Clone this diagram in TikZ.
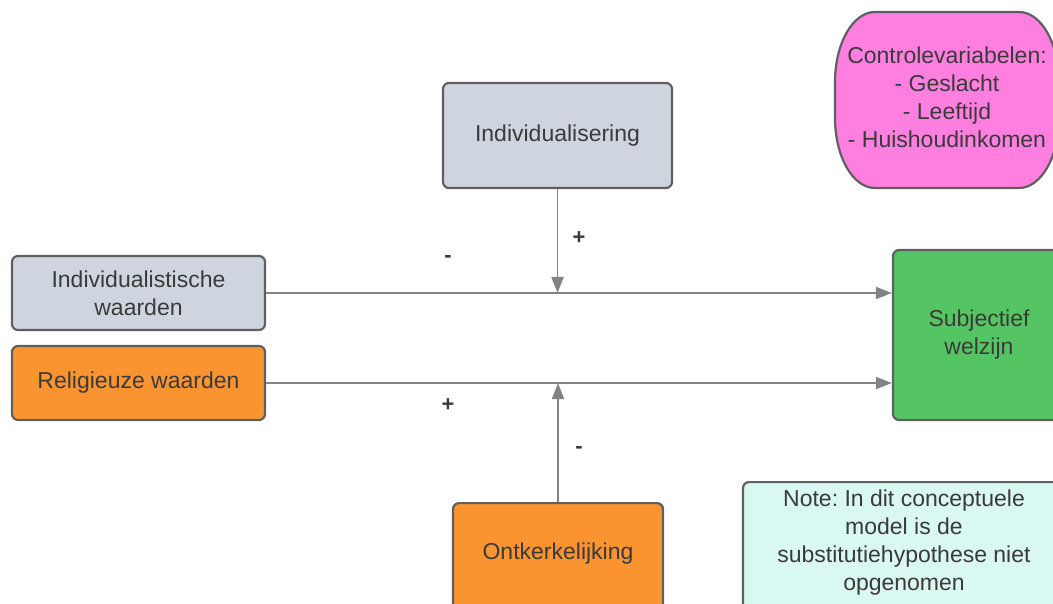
\documentclass[tikz,border=0pt]{standalone}
\usepackage{fontspec}
\setmainfont{Liberation Sans}
\frenchspacing
\usetikzlibrary{arrows.meta}
\definecolor{greyfill}{HTML}{CFD5DE}
\definecolor{orangefill}{HTML}{FA9431}
\definecolor{greenfill}{HTML}{55C462}
\definecolor{pinkfill}{HTML}{FF7FE0}
\definecolor{notefill}{HTML}{DAF8F2}
\definecolor{bordercol}{HTML}{5F5F5F}
\definecolor{arrowcol}{HTML}{838383}
\definecolor{textcol}{HTML}{3A3A3A}
\tikzset{
  boxline/.style={draw=bordercol, line width=2.2pt},
  box/.style={boxline, rounded corners=6pt, text=textcol,
    align=center, inner sep=0pt, font=\fontsize{23}{28}\selectfont},
  conn/.style={draw=arrowcol, line width=1.8pt, -{Triangle[length=16pt,width=12pt]}},
  sign/.style={text=textcol, font=\fontsize{22}{26}\selectfont\bfseries, inner sep=0pt}
}
\begin{document}
\begin{tikzpicture}[x=1pt,y=-1pt]
\path[use as bounding box] (0,0) rectangle (1053,604);
\clip (0,0) rectangle (1053,604);
% control variables shape (elliptical corners)
\path[boxline, fill=pinkfill] (875,12) -- (1019,12)
  .. controls (1041.1,12) and (1059,43.3) .. (1059,82) -- (1059,118)
  .. controls (1059,156.7) and (1041.1,188) .. (1019,188) -- (875,188)
  .. controls (852.9,188) and (835,156.7) .. (835,118) -- (835,82)
  .. controls (835,43.3) and (852.9,12) .. cycle;
\node[text=textcol, align=center, inner sep=0pt, font=\fontsize{23}{28}\selectfont] (ctrl) at (947,97) {Controlevariabelen:\\- Geslacht\\- Leeftijd\\- Huishoudinkomen};
\node[box, fill=greyfill, minimum width=229pt, minimum height=105pt] (ind) at (557.5,135.5) {Individualisering};
\node[box, fill=greyfill, minimum width=253pt, minimum height=74pt] (iw) at (138.5,293) {Individualistische\\waarden};
\node[box, fill=orangefill, minimum width=253pt, minimum height=74pt] (rw) at (138.5,383) {Religieuze waarden};
\node[box, fill=greenfill, minimum width=172pt, minimum height=170pt] (sw) at (979,335) {Subjectief\\welzijn};
\node[box, fill=notefill, anchor=north, minimum width=322pt, inner ysep=8pt, text depth=40pt] (note) at (904,481) {Note: In dit conceptuele\\model is de\\substitutiehypothese niet\\opgenomen};
\node[box, fill=orangefill, anchor=north, minimum width=210pt, inner ysep=40pt, text depth=30pt] (ont) at (558,502) {Ontkerkelijking};
\draw[conn] (iw.east) -- (iw.east -| sw.west);
\draw[conn] (rw.east) -- (rw.east -| sw.west);
\draw[conn] (ind.south) -- (ind.south |- iw.east);
\draw[conn] (ont.north) -- (ont.north |- rw.east);
\node[sign] (s1) at (448,259) {-};
\node[sign] (s2) at (579,238) {+};
\node[sign] (s3) at (448,405) {+};
\node[sign] (s4) at (579,450) {-};
\end{tikzpicture}
\end{document}
